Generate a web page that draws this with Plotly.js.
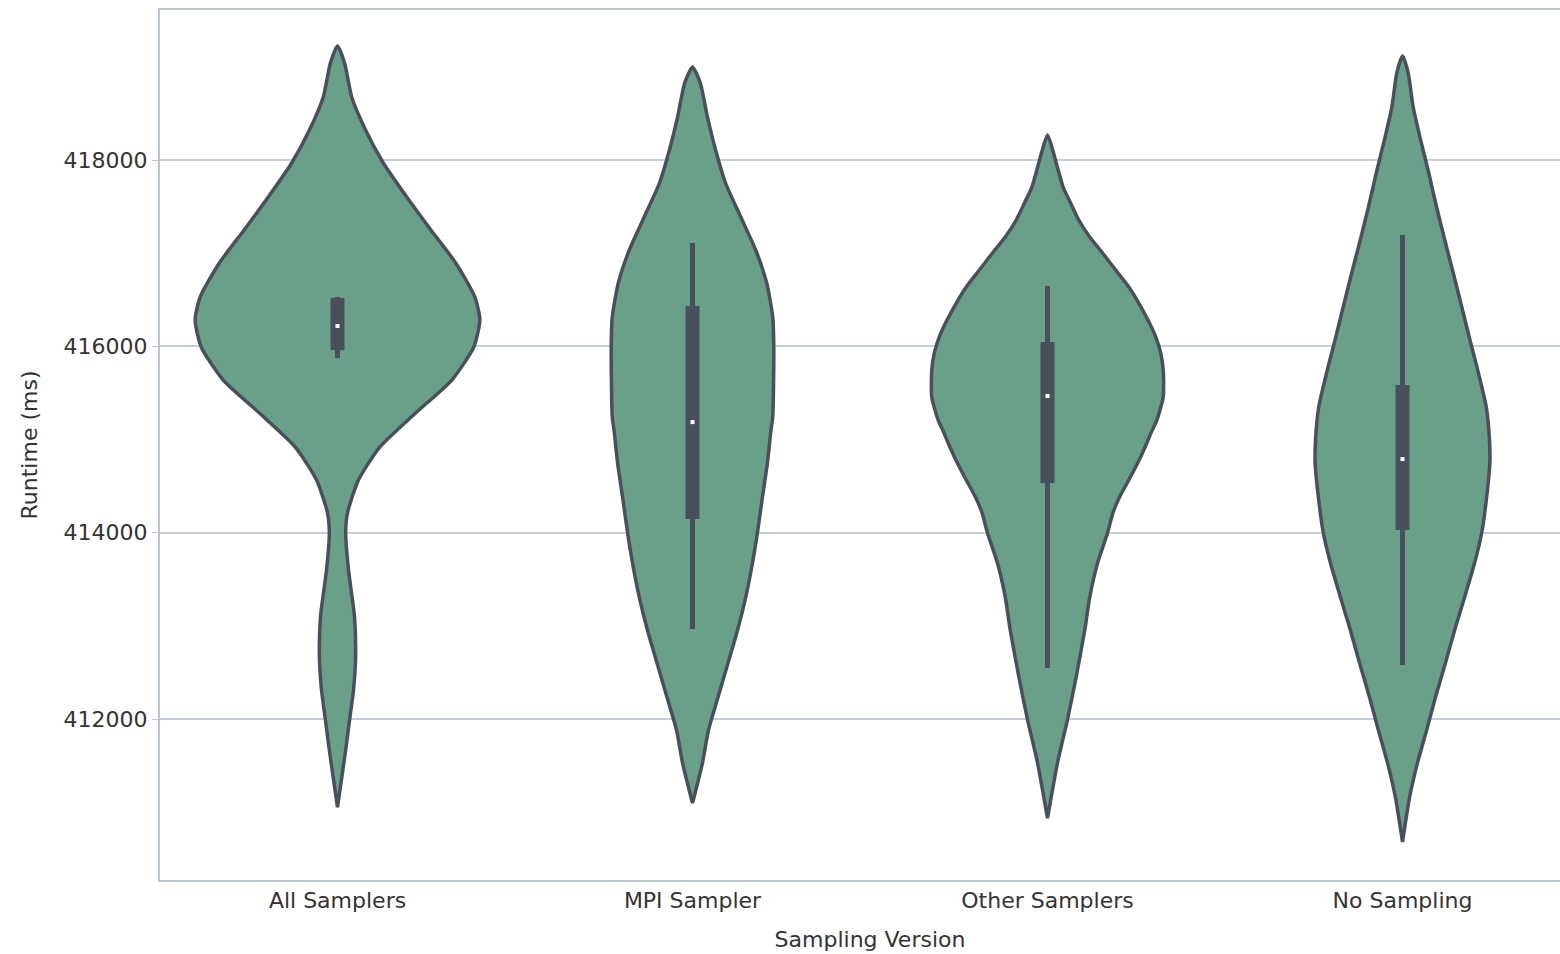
<!DOCTYPE html>
<html>
<head>
<meta charset="utf-8">
<script src="https://cdn.plot.ly/plotly-3.0.1.min.js"></script>
<style>
  html, body { margin: 0; padding: 0; overflow: hidden; background: #fff; }
  #chart { width: 1580px; height: 954px; }
</style>
</head>
<body>
<div id="chart"></div>
<script>
// Categories
const categories = ["All Samplers", "MPI Sampler", "Other Samplers", "No Sampling"];

// Violin density profiles: runtime levels (ms) and half-widths (density, in category units)
const runtimeAll   = [419224, 419041, 418676, 418322, 417968, 417603, 417249, 416894, 416529, 416282, 415993, 415638, 415284, 414919, 414565, 414210, 413996, 413599, 413094, 412665, 412310, 411988, 411666, 411344, 411054];
const densityAll   = [0.000, 0.020, 0.040, 0.079, 0.129, 0.195, 0.263, 0.333, 0.387, 0.401, 0.384, 0.322, 0.220, 0.119, 0.059, 0.028, 0.023, 0.031, 0.048, 0.051, 0.045, 0.034, 0.023, 0.011, 0.000];

const runtimeMPI   = [418998, 418827, 418462, 418107, 417753, 417388, 417034, 416680, 416315, 415960, 415241, 415101, 414747, 414382, 414028, 413674, 413309, 412955, 412600, 412235, 411881, 411527, 411097];
const densityMPI   = [0.000, 0.022, 0.042, 0.065, 0.093, 0.136, 0.178, 0.209, 0.226, 0.229, 0.226, 0.221, 0.211, 0.197, 0.184, 0.169, 0.150, 0.127, 0.100, 0.072, 0.045, 0.028, 0.000];

const runtimeOther = [418268, 418075, 417893, 417710, 417538, 417356, 417173, 417002, 416819, 416637, 416465, 416282, 416100, 415928, 415746, 415456, 415209, 415101, 414919, 414747, 414565, 414382, 414210, 413996, 413674, 413309, 412955, 412418, 411988, 411527, 410936];
const densityOther = [0.000, 0.017, 0.030, 0.044, 0.065, 0.088, 0.119, 0.155, 0.192, 0.229, 0.257, 0.283, 0.305, 0.319, 0.326, 0.326, 0.308, 0.295, 0.275, 0.254, 0.229, 0.203, 0.184, 0.169, 0.141, 0.119, 0.105, 0.079, 0.056, 0.028, 0.000];

const runtimeNone  = [419116, 418934, 418569, 418215, 417860, 417495, 417141, 416787, 416422, 416068, 415713, 415348, 414994, 414747, 414382, 413996, 413674, 413309, 412955, 412600, 412235, 411881, 411527, 411162, 410679];
const densityNone  = [0.000, 0.016, 0.030, 0.051, 0.074, 0.096, 0.119, 0.143, 0.167, 0.190, 0.214, 0.236, 0.245, 0.246, 0.237, 0.223, 0.203, 0.175, 0.147, 0.121, 0.093, 0.068, 0.042, 0.020, 0.000];

// Inner box statistics per category
const whiskerLow  = [415874, 412965, 412547, 412579];
const quartile1   = [415960, 414146, 414533, 414028];
const medianVals  = [416218, 415187, 415467, 414790];
const quartile3   = [416520, 416433, 416046, 415585];
const whiskerHigh = [416530, 417109, 416647, 417195];

// Y axis ticks
const yTicks = [412000, 414000, 416000, 418000];

const runtimes  = [runtimeAll, runtimeMPI, runtimeOther, runtimeNone];
const densities = [densityAll, densityMPI, densityOther, densityNone];

const fillColor = "rgb(106,160,138)";
const edgeColor = "rgb(74,79,92)";

const traces = [];
categories.forEach((cat, i) => {
  const ys = runtimes[i], ds = densities[i];
  const px = [], py = [];
  for (let k = 0; k < ys.length; k++) { px.push(i + ds[k]); py.push(ys[k]); }
  for (let k = ys.length - 1; k >= 0; k--) { px.push(i - ds[k]); py.push(ys[k]); }
  traces.push({
    type: "scatter", mode: "lines", x: px, y: py, fill: "toself",
    fillcolor: fillColor,
    line: { color: edgeColor, width: 3.5, shape: "spline", smoothing: 0.6 },
    hoverinfo: "skip", showlegend: false, name: cat
  });
  traces.push({
    type: "scatter", mode: "lines", x: [i, i], y: [whiskerLow[i], whiskerHigh[i]],
    line: { color: edgeColor, width: 5 }, hoverinfo: "skip", showlegend: false
  });
  traces.push({
    type: "scatter", mode: "lines", x: [i, i], y: [quartile1[i], quartile3[i]],
    line: { color: edgeColor, width: 14 }, hoverinfo: "skip", showlegend: false
  });
  traces.push({
    type: "scatter", mode: "markers", x: [i], y: [medianVals[i]],
    marker: { color: "#ffffff", size: 4, symbol: "square" }, hoverinfo: "skip", showlegend: false
  });
});

const tickFont = { family: "DejaVu Sans, Arial, sans-serif", size: 22, color: "#333333" };
const axisLine = "rgb(185,196,211)";

const layout = {
  width: 1580, height: 954,
  margin: { l: 160, r: 0, t: 10, b: 74 },
  paper_bgcolor: "#ffffff", plot_bgcolor: "#ffffff",
  showlegend: false,
  xaxis: {
    range: [-0.5, 3.5],
    tickvals: categories.map((c, i) => i),
    ticktext: categories,
    tickfont: tickFont,
    showgrid: false, zeroline: false,
    showline: true, linecolor: axisLine, linewidth: 2, mirror: true,
    ticks: "", ticklabelstandoff: 0,
    title: { text: "Sampling Version", font: tickFont, standoff: 19 }
  },
  yaxis: {
    range: [410272, 419610],
    tickvals: yTicks,
    ticktext: yTicks.map(String),
    tickfont: tickFont,
    showgrid: true, gridcolor: "rgb(197,206,219)", gridwidth: 2,
    zeroline: false,
    showline: true, linecolor: axisLine, linewidth: 2, mirror: true,
    ticks: "outside", ticklen: 6, tickcolor: axisLine, tickwidth: 1,
    title: { text: "Runtime (ms)", font: tickFont, standoff: 20 }
  }
};

Plotly.newPlot("chart", traces, layout, { displayModeBar: false, staticPlot: true });
</script>
</body>
</html>
